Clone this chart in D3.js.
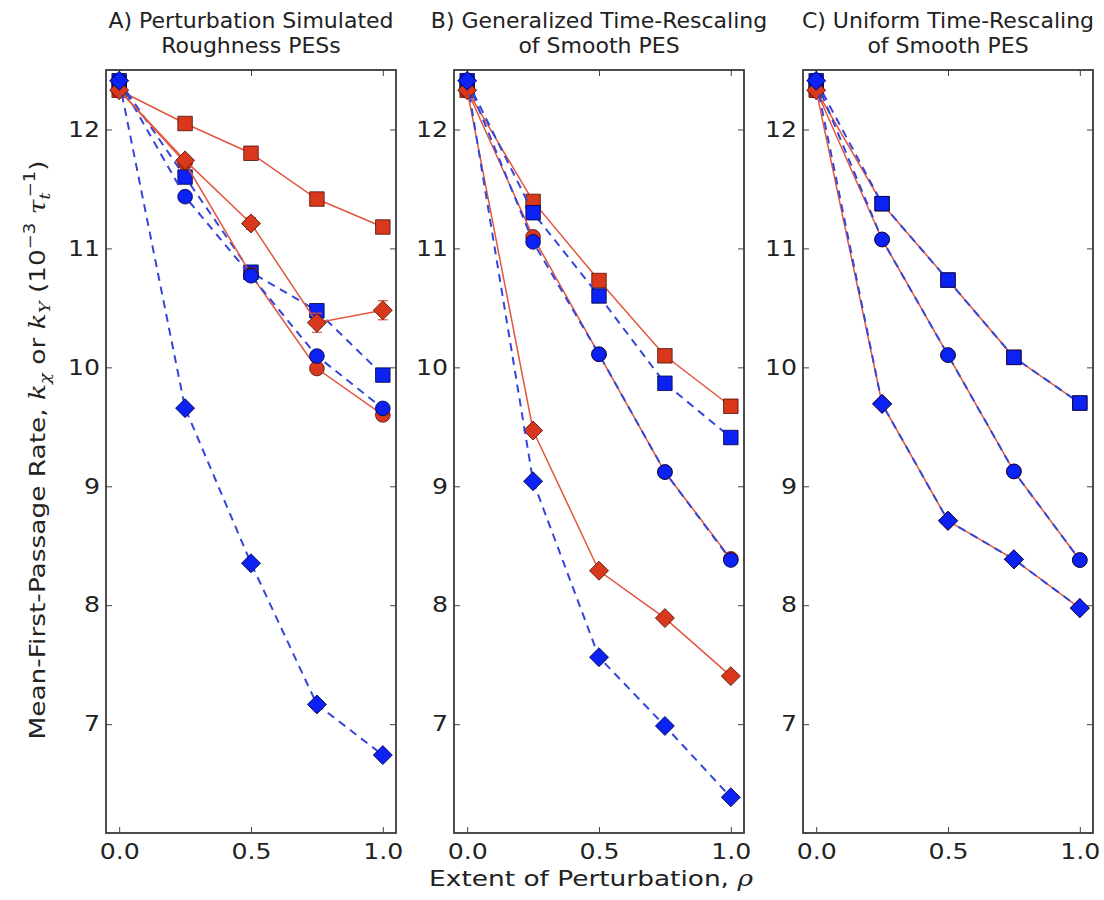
<!DOCTYPE html>
<html>
<head>
<meta charset="utf-8">
<script src="https://cdn.jsdelivr.net/npm/d3@7/dist/d3.min.js"></script>
<style>
  body { margin: 0; background: #fff; }
  text { font-family: "DejaVu Sans", sans-serif; fill: #222; }
</style>
</head>
<body>
<div id="chart"></div>
<script>
// perturbation extent
const rho = [0, 0.25, 0.5, 0.75, 1.0]
const xTicks = [0, 0.5, 1.0]
const yTicks = [7, 8, 9, 10, 11, 12]

const titles = [
  ["A) Perturbation Simulated", "Roughness PESs"],
  ["B) Generalized Time-Rescaling", "of Smooth PES"],
  ["C) Uniform Time-Rescaling", "of Smooth PES"]
]

// panel A
const aRedSquare   = [12.33, 12.05, 11.80, 11.415, 11.18]
const aBlueSquare  = [12.41, 11.60, 10.80, 10.476, 9.935]
const aRedCircle   = [12.33, 11.72, 10.78, 9.99, 9.60]
const aBlueCircle  = [12.41, 11.435, 10.77, 10.095, 9.655]
const aRedDiamond  = [12.33, 11.74, 11.21, 10.375, 10.48]
const aRedDiamondErr = [0.02, 0.04, 0.05, 0.08, 0.08]
const aBlueDiamond = [12.41, 9.657, 8.353, 7.166, 6.74]

// panel B
const bRedSquare   = [12.33, 11.395, 10.73, 10.097, 9.673]
const bBlueSquare  = [12.41, 11.30, 10.60, 9.866, 9.41]
const bRedCircle   = [12.33, 11.097, 10.11, 9.12, 8.39]
const bBlueCircle  = [12.41, 11.055, 10.11, 9.12, 8.38]
const bRedDiamond  = [12.33, 9.469, 8.29, 7.892, 7.404]
const bBlueDiamond = [12.41, 9.042, 7.563, 6.985, 6.385]

// panel C (both rescalings coincide)
const cRedSquare   = [12.33, 11.376, 10.734, 10.084, 9.70]
const cBlueSquare  = [12.41, 11.376, 10.734, 10.084, 9.70]
const cRedCircle   = [12.33, 11.075, 10.103, 9.125, 8.38]
const cBlueCircle  = [12.41, 11.075, 10.103, 9.125, 8.38]
const cRedDiamond  = [12.33, 9.693, 8.71, 8.386, 7.976]
const cBlueDiamond = [12.41, 9.693, 8.71, 8.386, 7.976]

const RED = "#d9381c", RED_LINE = "#e2573d", RED_EDGE = "#4a1208"
const BLUE = "#0b22f2", BLUE_LINE = "#3446d8", BLUE_EDGE = "#000040"
const WIDE = "scale(1.2,1)"   // the figure's lettering runs wider than DejaVu

function series(shape, red, blue, redErr) {
  return [
    { shape: shape, color: "red", values: red, err: redErr },
    { shape: shape, color: "blue", values: blue }
  ]
}

const panels = [
  [].concat(series("square", aRedSquare, aBlueSquare), series("circle", aRedCircle, aBlueCircle),
            series("diamond", aRedDiamond, aBlueDiamond, aRedDiamondErr)),
  [].concat(series("square", bRedSquare, bBlueSquare), series("circle", bRedCircle, bBlueCircle),
            series("diamond", bRedDiamond, bBlueDiamond)),
  [].concat(series("square", cRedSquare, cBlueSquare), series("circle", cRedCircle, cBlueCircle),
            series("diamond", cRedDiamond, cBlueDiamond))
]

const width = 1104, height = 900
const panelLeft = [106, 454, 803]
const panelW = 290
const plotTop = 70, plotBottom = 833

const svg = d3.select("#chart").append("svg")
  .attr("width", width)
  .attr("height", height)

const y = d3.scaleLinear().domain([6.085, 12.5]).range([plotBottom, plotTop])

const symbols = {
  square: d3.symbol().type(d3.symbolSquare).size(210),
  circle: d3.symbol().type(d3.symbolCircle).size(170),
  diamond: d3.symbol().type(d3.symbolSquare).size(180)
}

panels.forEach((list, p) => {
  const x = d3.scaleLinear().domain([-0.05, 1.05]).range([panelLeft[p], panelLeft[p] + panelW])
  const g = svg.append("g")

  // ticks, inward on all four sides
  const left = g.append("g").attr("transform", "translate(" + panelLeft[p] + ",0)")
    .call(d3.axisLeft(y).tickValues(yTicks).tickSize(-6).tickPadding(5).tickFormat(d3.format("d")))
  const right = g.append("g").attr("transform", "translate(" + (panelLeft[p] + panelW) + ",0)")
    .call(d3.axisRight(y).tickValues(yTicks).tickSize(-6).tickFormat(""))
  const bot = g.append("g").attr("transform", "translate(0," + plotBottom + ")")
    .call(d3.axisBottom(x).tickValues(xTicks).tickSize(-6).tickPadding(11).tickFormat(d3.format(".1f")))
  const tp = g.append("g").attr("transform", "translate(0," + plotTop + ")")
    .call(d3.axisTop(x).tickValues(xTicks).tickSize(-6).tickFormat(""))
  ;[left, right, bot, tp].forEach(a => {
    a.select(".domain").remove()
    a.selectAll("line").attr("stroke", "#444").attr("stroke-width", 1)
    a.selectAll("text").attr("font-size", "21px").attr("fill", "#222")
      .attr("transform", WIDE)
      .style("font-family", "'DejaVu Sans', sans-serif")
  })

  const line = d3.line().x((d, i) => x(rho[i])).y(d => y(d))

  list.forEach(s => {
    const isRed = s.color === "red"
    g.append("path")
      .datum(s.values)
      .attr("d", line)
      .attr("fill", "none")
      .attr("stroke", isRed ? RED_LINE : BLUE_LINE)
      .attr("stroke-width", isRed ? 1.5 : 2)
      .attr("stroke-dasharray", isRed ? null : "8,6")

    if (s.err) {
      s.values.forEach((v, i) => {
        const cx = x(rho[i])
        g.append("line")
          .attr("x1", cx).attr("x2", cx)
          .attr("y1", y(v - s.err[i])).attr("y2", y(v + s.err[i]))
          .attr("stroke", RED_LINE).attr("stroke-width", 1.2)
        ;[v - s.err[i], v + s.err[i]].forEach(e => {
          g.append("line")
            .attr("x1", cx - 5).attr("x2", cx + 5)
            .attr("y1", y(e)).attr("y2", y(e))
            .attr("stroke", RED_LINE).attr("stroke-width", 1.2)
        })
      })
    }

    g.selectAll(null)
      .data(s.values)
      .enter()
      .append("path")
      .attr("d", symbols[s.shape])
      .attr("transform", (d, i) => "translate(" + x(rho[i]) + "," + y(d) + ")" +
        (s.shape === "diamond" ? " rotate(45)" : ""))
      .attr("fill", isRed ? RED : BLUE)
      .attr("stroke", isRed ? RED_EDGE : BLUE_EDGE)
      .attr("stroke-width", 0.8)
  })

  // frame
  g.append("rect")
    .attr("x", panelLeft[p]).attr("y", plotTop)
    .attr("width", panelW).attr("height", plotBottom - plotTop)
    .attr("fill", "none")
    .attr("stroke", "#3a3a3a")
    .attr("stroke-width", 1.8)

  // title
  const cx = panelLeft[p] + panelW / 2
  titles[p].forEach((t, k) => {
    svg.append("text")
      .attr("x", cx).attr("y", 28 + k * 25)
      .attr("text-anchor", "middle")
      .attr("font-size", "22px")
      .text(t)
  })
})

const it = "'DejaVu Serif', serif"

// x label
const xl = svg.append("g")
  .attr("transform", "translate(591,886) " + WIDE)
  .append("text")
  .attr("text-anchor", "middle")
  .attr("font-size", "22px")
xl.append("tspan").text("Extent of Perturbation, ")
xl.append("tspan").attr("font-family", it).attr("font-style", "italic").text("ρ")

// y label with math parts
const yl = svg.append("g")
  .attr("transform", "translate(45,450) rotate(-90) " + WIDE)
  .append("text")
  .attr("text-anchor", "middle")
  .attr("font-size", "22px")
yl.append("tspan").text("Mean-First-Passage Rate, ")
yl.append("tspan").attr("font-family", it).attr("font-style", "italic").text("k")
yl.append("tspan").attr("font-family", it).attr("font-style", "italic").attr("font-size", "15px").attr("dy", 5).text("χ")
yl.append("tspan").attr("dy", -5).text(" or ")
yl.append("tspan").attr("font-family", it).attr("font-style", "italic").text("k")
yl.append("tspan").attr("font-family", it).attr("font-style", "italic").attr("font-size", "15px").attr("dy", 5).text("Y")
yl.append("tspan").attr("dy", -5).text("  (10")
yl.append("tspan").attr("font-size", "15px").attr("dy", -10).text("−3")
yl.append("tspan").attr("dy", 10).text(" ")
yl.append("tspan").attr("font-family", it).attr("font-style", "italic").text("τ")
yl.append("tspan").attr("font-family", it).attr("font-style", "italic").attr("font-size", "15px").attr("dy", 5).text("t")
yl.append("tspan").attr("font-size", "15px").attr("dx", -4).attr("dy", -15).text("−1")
yl.append("tspan").attr("dy", 10).text(")")
</script>
</body>
</html>
